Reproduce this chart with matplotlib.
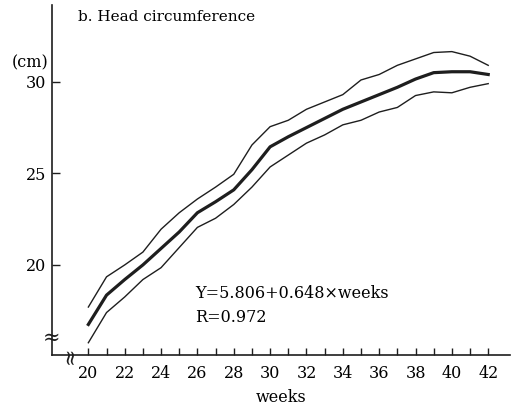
import numpy as np
import matplotlib.pyplot as plt
from matplotlib.ticker import FixedLocator

# gestational age (weeks) and head circumference (cm)
weeks = [20, 21, 22, 23, 24, 25, 26, 27, 28, 29, 30, 31,
         32, 33, 34, 35, 36, 37, 38, 39, 40, 41, 42]
mean_cm = [16.75, 18.35, 19.2, 20.0, 20.9, 21.8, 22.85, 23.45, 24.1, 25.2, 26.45, 27.0,
           27.5, 28.0, 28.5, 28.9, 29.3, 29.7, 30.15, 30.5, 30.55, 30.55, 30.4]
upper_cm = [17.7, 19.35, 20.0, 20.7, 21.95, 22.85, 23.6, 24.25, 24.95, 26.55, 27.55, 27.9,
            28.5, 28.9, 29.3, 30.1, 30.4, 30.9, 31.25, 31.6, 31.65, 31.4, 30.9]
lower_cm = [15.75, 17.4, 18.25, 19.2, 19.85, 20.95, 22.05, 22.55, 23.3, 24.25, 25.35, 26.0,
            26.65, 27.1, 27.65, 27.9, 28.35, 28.6, 29.25, 29.45, 29.4, 29.7, 29.9]

plt.rcParams['font.family'] = ['DejaVu Serif']
fs = 11.5

fig = plt.figure(figsize=(5.19, 4.09), dpi=100)
ax = fig.add_axes([0.1002, 0.132, 0.8825, 0.856])

ink = '#1e1e1e'
ax.plot(weeks, upper_cm, color=ink, lw=1.0)
ax.plot(weeks, lower_cm, color=ink, lw=1.0)
ax.plot(weeks, mean_cm, color=ink, lw=2.3)

ax.set_xlim(18.0, 43.2)
ax.set_ylim(15.08, 34.2)

for s in ['top', 'right']:
    ax.spines[s].set_visible(False)
for s in ['left', 'bottom']:
    ax.spines[s].set_linewidth(1.2)
    ax.spines[s].set_color(ink)

ax.xaxis.set_major_locator(FixedLocator(np.arange(20, 43, 2)))
ax.xaxis.set_minor_locator(FixedLocator(np.arange(21, 42, 2)))
ax.set_yticks([20, 25, 30])
ax.tick_params(axis='x', which='both', direction='in', length=5, width=1.0,
               color=ink, pad=7, labelsize=fs)
ax.tick_params(axis='y', direction='in', length=6, width=1.0, color=ink,
               pad=4, labelsize=fs)

ax.set_xlabel('weeks', fontsize=fs, labelpad=5)

# axis break marks
ax.text(18.0, 16.0, '≈', ha='center', va='center', fontsize=15, color=ink)
ax.text(19.0, 15.08, '≈', ha='center', va='center', fontsize=15, color=ink,
        rotation=90)

fig.text(78 / 519, 1 - 17 / 409, 'b. Head circumference', fontsize=11,
         ha='left', va='center')
fig.text(12 / 519, 1 - 63 / 409, '(cm)', fontsize=fs, ha='left', va='center')
fig.text(195 / 519, 1 - 293 / 409, 'Y=5.806+0.648×weeks', fontsize=fs,
         ha='left', va='center')
fig.text(195 / 519, 1 - 318 / 409, 'R=0.972', fontsize=fs,
         ha='left', va='center')

fig.savefig('out.png', dpi=100, facecolor='white')
